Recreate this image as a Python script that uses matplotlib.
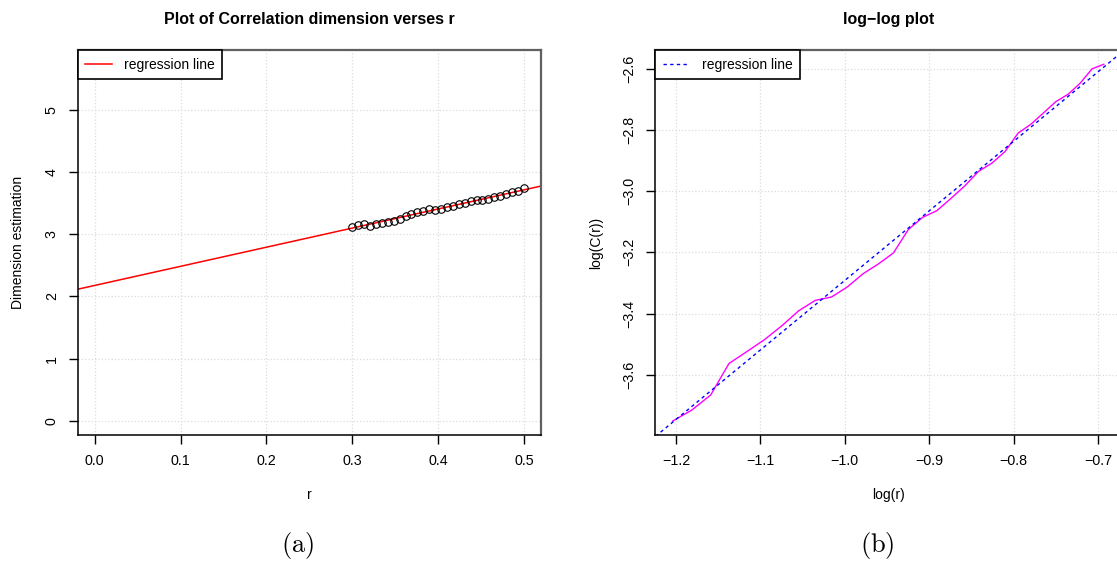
import numpy as np
import matplotlib
matplotlib.use("Agg")
import matplotlib.pyplot as plt

plt.rcParams["font.family"] = ["Liberation Sans", "DejaVu Sans"]
plt.rcParams["mathtext.fontset"] = "cm"

# radius values used for both panels
r = [0.3000, 0.3069, 0.3138, 0.3207, 0.3276, 0.3345, 0.3414, 0.3483, 0.3552, 0.3621,
     0.3690, 0.3759, 0.3828, 0.3897, 0.3966, 0.4034, 0.4103, 0.4172, 0.4241, 0.4310,
     0.4379, 0.4448, 0.4517, 0.4586, 0.4655, 0.4724, 0.4793, 0.4862, 0.4931, 0.5000]

# correlation dimension estimate for each r
dim_est = [3.118, 3.145, 3.167, 3.134, 3.161, 3.183, 3.204, 3.215, 3.247, 3.296,
           3.328, 3.349, 3.376, 3.403, 3.387, 3.409, 3.441, 3.457, 3.484, 3.495,
           3.527, 3.548, 3.548, 3.570, 3.597, 3.618, 3.645, 3.672, 3.688, 3.737]

# log of the correlation sum C(r)
log_c = [-3.751, -3.715, -3.666, -3.563, -3.524, -3.485, -3.440, -3.391, -3.357, -3.346,
         -3.313, -3.270, -3.238, -3.202, -3.126, -3.086, -3.064, -3.024, -2.983, -2.936,
         -2.909, -2.871, -2.811, -2.782, -2.745, -2.708, -2.684, -2.648, -2.601, -2.586]

r = np.array(r)
dim_est = np.array(dim_est)
log_r = np.log(r)
log_c = np.array(log_c)


def r_limits(lo, hi):
    pad = 0.04 * (hi - lo)
    return lo - pad, hi + pad


def r_style(ax):
    ax.grid(True, color="#dcdcdc", linestyle=":", linewidth=0.9)
    ax.set_axisbelow(True)
    for side in ("left", "bottom"):
        ax.spines[side].set_color("black")
        ax.spines[side].set_linewidth(1.1)
    for side in ("top", "right"):
        ax.spines[side].set_color("#606060")
        ax.spines[side].set_linewidth(1.6)
    ax.tick_params(direction="out", length=6.5, width=1, labelsize=10.3, pad=7)
    ax.tick_params(axis="y", labelrotation=90)
    for lab in ax.get_yticklabels():
        lab.set_va("center")


def r_legend(ax):
    leg = ax.legend(loc="upper left", borderaxespad=0, fancybox=False, framealpha=1,
                    edgecolor="black", fontsize=10, handlelength=1.9,
                    handletextpad=0.9, borderpad=0.55)
    leg.get_frame().set_linewidth(1.2)


fig = plt.figure(figsize=(11.17, 5.68), dpi=100)

# (a) dimension estimate against r with fitted line
ax1 = fig.add_axes([0.0694, 0.2336, 0.415, 0.6784])
ax1.set_xlim(*r_limits(0.0, 0.5))
ax1.set_ylim(-0.229, 5.958)
slope, intercept = np.polyfit(r, dim_est, 1)
xs = np.array(ax1.get_xlim())
ax1.plot(xs, intercept + slope * xs, color="red", linewidth=1.1, label="regression line")
ax1.plot(r, dim_est, linestyle="none", marker="o", markersize=5.4,
         markerfacecolor="none", markeredgecolor="black", markeredgewidth=0.8)
ax1.set_xticks([0.0, 0.1, 0.2, 0.3, 0.4, 0.5])
ax1.set_yticks([0, 1, 2, 3, 4, 5])
r_style(ax1)
ax1.set_xlabel("r", fontsize=10, labelpad=14)
ax1.set_ylabel("Dimension estimation", fontsize=10, labelpad=14)
ax1.set_title("Plot of Correlation dimension verses r", fontsize=11.5,
              fontweight="bold", pad=19)
r_legend(ax1)

# (b) log-log plot of C(r)
ax2 = fig.add_axes([0.5868, 0.2336, 0.4168, 0.6784])
ax2.set_xlim(*r_limits(log_r.min(), log_r.max()))
ax2.set_ylim(*r_limits(log_c.min(), log_c.max()))
ax2.plot(log_r, log_c, color="magenta", linewidth=1.0)
slope2, intercept2 = np.polyfit(log_r, log_c, 1)
xs2 = np.array(ax2.get_xlim())
ax2.plot(xs2, intercept2 + slope2 * xs2, color="blue", linewidth=1.0,
         dashes=(2.4, 2.4), label="regression line")
ax2.set_xticks([-1.2, -1.1, -1.0, -0.9, -0.8, -0.7])
ax2.set_yticks([-3.6, -3.4, -3.2, -3.0, -2.8, -2.6])
r_style(ax2)
ax2.set_xlabel("log(r)", fontsize=10, labelpad=14)
ax2.set_ylabel("log(C(r))", fontsize=10, labelpad=14)
ax2.set_title("log\u2212log plot", fontsize=11.5, fontweight="bold", pad=19)
r_legend(ax2)

fig.text(0.2668, 0.013, r"$(\mathrm{a})$", fontsize=19, ha="center", va="bottom")
fig.text(0.7851, 0.013, r"$(\mathrm{b})$", fontsize=19, ha="center", va="bottom")

fig.savefig("out.png", dpi=100)
